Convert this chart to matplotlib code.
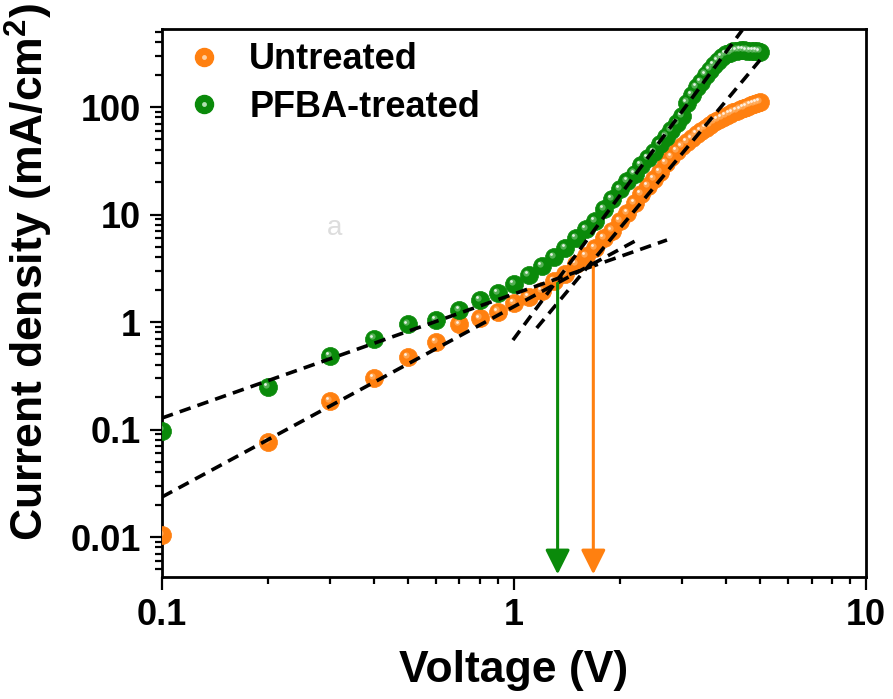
import numpy as np
import matplotlib
matplotlib.use('Agg')
import matplotlib.pyplot as plt
from matplotlib.transforms import offset_copy
from matplotlib.ticker import FixedLocator, FixedFormatter, LogLocator, NullFormatter
from matplotlib.lines import Line2D

plt.rcParams['font.family'] = ['Liberation Sans', 'DejaVu Sans']
plt.rcParams['font.weight'] = 'bold'
plt.rcParams['mathtext.fontset'] = 'custom'
plt.rcParams['mathtext.rm'] = 'Liberation Sans:bold'
plt.rcParams['mathtext.bf'] = 'Liberation Sans:bold'

# 전압 (V), 0.1 V 간격
voltage = [0.1, 0.2, 0.3, 0.4, 0.5, 0.6, 0.7, 0.8, 0.9, 1.0,
           1.1, 1.2, 1.3, 1.4, 1.5, 1.6, 1.7, 1.8, 1.9, 2.0,
           2.1, 2.2, 2.3, 2.4, 2.5, 2.6, 2.7, 2.8, 2.9, 3.0,
           3.1, 3.2, 3.3, 3.4, 3.5, 3.6, 3.7, 3.8, 3.9, 4.0,
           4.1, 4.2, 4.3, 4.4, 4.5, 4.6, 4.7, 4.8, 4.9, 5.0]

# 전류 밀도 (mA/cm2)
untreated = [0.0105, 0.077, 0.185, 0.30, 0.47, 0.65, 0.95, 1.08, 1.25, 1.5,
             1.7, 1.95, 2.4, 2.8, 3.45, 4.1, 4.9, 6.0, 7.1, 8.7,
             10.4, 12.7, 15.4, 18.5, 21.5, 25, 30, 34.5, 39, 43,
             47, 51, 56, 60, 64, 68, 72, 76, 79, 83,
             86, 89, 92, 95, 98, 101, 104, 106, 109, 112]

pfba = [0.098, 0.25, 0.48, 0.70, 0.95, 1.05, 1.3, 1.6, 1.87, 2.25,
        2.75, 3.3, 4.0, 4.9, 6.0, 7.3, 8.7, 11.2, 14, 17.2,
        20.5, 24, 29, 33.5, 38, 45, 53, 61, 71, 82,
        110, 130, 153, 172, 200, 223, 246, 270, 293, 310,
        320, 330, 335, 337, 337, 335, 333, 332, 330, 328]

# 피팅 직선 (끝점)
fit_pfba_low_v = [0.1, 2.72]
fit_pfba_low_j = [0.128, 5.8]
fit_un_low_v = [0.1, 2.235]
fit_un_low_j = [0.0236, 5.8]
fit_pfba_high_v = [0.993, 4.45]
fit_pfba_high_j = [0.68, 520]
fit_un_high_v = [1.16, 5.0]
fit_un_high_j = [0.88, 274]

# 교차점 화살표
arrow_v = [1.33, 1.68]
arrow_j = [2.3, 3.25]
arrow_bottom = 0.0045

orange = '#FF8010'
green = '#0A8A0A'

fig = plt.figure(figsize=(8.93, 6.99), dpi=100)
ax = fig.add_axes([0.1814, 0.1745, 0.7884, 0.7840])
ax.set_xscale('log')
ax.set_yscale('log')
ax.set_xlim(0.1, 10)
ax.set_ylim(0.00425, 532)

tr1 = offset_copy(ax.transData, fig=fig, x=-1.6, y=1.6, units='points')
tr2 = offset_copy(ax.transData, fig=fig, x=-2.1, y=2.1, units='points')

def balls(v, j, c, light):
    ax.plot(v, j, 'o', ms=13, color=c, mec=c, mew=0.5, zorder=3)
    ax.plot(v, j, 'o', ms=4.5, color=light, mec='none', alpha=0.55, transform=tr1, zorder=3)
    ax.plot(v, j, 'o', ms=2, color='white', mec='none', alpha=0.85, transform=tr2, zorder=3)

balls(voltage, untreated, orange, '#FFC080')
balls(voltage, pfba, green, '#90D090')

for fv, fj in [(fit_pfba_low_v, fit_pfba_low_j), (fit_un_low_v, fit_un_low_j),
               (fit_pfba_high_v, fit_pfba_high_j), (fit_un_high_v, fit_un_high_j)]:
    ax.plot(fv, fj, '--', color='black', lw=2.6, dashes=(3.2, 2.0), zorder=4)

for v, j, c in zip(arrow_v, arrow_j, [green, orange]):
    ax.annotate('', xy=(v, arrow_bottom), xytext=(v, j),
                arrowprops=dict(arrowstyle='-|>,head_length=1.0,head_width=0.5',
                                color=c, lw=2.2, mutation_scale=15,
                                shrinkA=0, shrinkB=0), zorder=5)

ax.text(0.31, 7.5, 'a', color='#dddddd', fontsize=20, fontweight='normal',
        ha='center', va='center')

h1 = (Line2D([], [], marker='o', ls='', ms=13, color=orange),
      Line2D([], [], marker='o', ls='', ms=3.5, color='#FFD0A0', mec='none'))
h2 = (Line2D([], [], marker='o', ls='', ms=13, color=green),
      Line2D([], [], marker='o', ls='', ms=3.5, color='#B0E0B0', mec='none'))
ax.legend([h1, h2], ['Untreated', 'PFBA-treated'], loc='upper left',
          bbox_to_anchor=(-0.012, 1.035), frameon=False, handlelength=1.0,
          handletextpad=0.75, labelspacing=0.35, prop={'size': 26, 'weight': 'bold'})

ax.yaxis.set_major_locator(FixedLocator([0.01, 0.1, 1, 10, 100]))
ax.yaxis.set_major_formatter(FixedFormatter(['0.01', '0.1', '1', '10', '100']))
ax.yaxis.set_minor_locator(LogLocator(base=10, subs=np.arange(2, 10)))
ax.yaxis.set_minor_formatter(NullFormatter())
ax.xaxis.set_major_locator(FixedLocator([0.1, 1, 10]))
ax.xaxis.set_major_formatter(FixedFormatter(['0.1', '1', '10']))
ax.xaxis.set_minor_locator(LogLocator(base=10, subs=np.arange(2, 10)))
ax.xaxis.set_minor_formatter(NullFormatter())

ax.tick_params(which='both', direction='out', width=1.6, labelsize=26, top=False, right=False)
ax.tick_params(which='major', length=9, pad=6)
ax.tick_params(which='minor', length=5)
for s in ax.spines.values():
    s.set_linewidth(2.0)

ax.set_xlabel('Voltage (V)', fontsize=32, fontweight='bold', labelpad=12)
ax.set_ylabel(r'Current density (mA/cm$^2$)', fontsize=32, fontweight='bold')
ax.yaxis.set_label_coords(-0.152, 0.557)

fig.savefig('out.png', dpi=100)
